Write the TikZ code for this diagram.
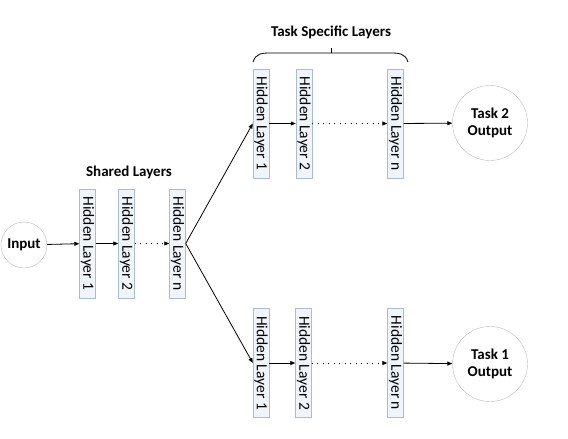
\documentclass[tikz,border=0pt]{standalone}
\usepackage{fontspec}
\setmainfont{Carlito}
\usetikzlibrary{arrows.meta}
\definecolor{boxfill}{HTML}{F0F5FB}
\definecolor{boxline}{HTML}{A9BCD5}
\definecolor{circline}{HTML}{BDBDBD}
\tikzset{
x=1pt,y=-1pt,
hidden/.style=
    {rectangle,
    draw=boxline,
    fill=boxfill,
    minimum width=16pt,
    minimum height=109pt,
    inner sep=0pt,
    font=\fontsize{15.5}{16}\selectfont
    },
unit/.style=
    {circle,
    draw=circline,
    fill=white,
    align=center,
    inner sep=0pt,
    font=\bfseries\fontsize{15}{17}\selectfont
    },
title/.style=
    {font=\bfseries\fontsize{15}{17}\selectfont
    },
link/.style=
    {-{Triangle[length=5pt,width=4pt]},
    draw=black,
    thick
    },
gap/.style=
    {link,
    dash pattern=on 1pt off 4.5pt
    }}
\newcommand{\hl}[1]{\rotatebox{-90}{Hidden Layer #1}}

\begin{document}
\begin{tikzpicture}
\useasboundingbox (0,0) rectangle (568,439);

% shared part
\node[unit,minimum size=46pt] (in) at (24,245) {Input};
\node[hidden] (s1) at (87.5,243.5) {\hl{1}};
\node[hidden] (s2) at (126.5,243.5) {\hl{2}};
\node[hidden] (sn) at (177.5,243.5) {\hl{n}};
\node[title] (shared) at (129,172) {Shared Layers};

% task 2 (top)
\node[hidden] (a1) at (261,123.5) {\hl{1}};
\node[hidden] (a2) at (304,123.5) {\hl{2}};
\node[hidden] (an) at (395.5,123.5) {\hl{n}};
\node[unit,minimum size=75pt] (out2) at (490,123) {Task 2\\Output};

% task 1 (bottom)
\node[hidden] (b1) at (261,363) {\hl{1}};
\node[hidden] (b2) at (303.5,363) {\hl{2}};
\node[hidden] (bn) at (395.5,363) {\hl{n}};
\node[unit,minimum size=75pt] (out1) at (490,364) {Task 1\\Output};

\node[title] (specific) at (331,32) {Task Specific Layers};

\draw[link] (in) -- (s1);
\draw[link] (s1) -- (s2);
\draw[gap] (s2) -- (sn);
\draw[link] (sn.east) -- (a1.west);
\draw[link] (sn.east) -- (b1.west);
\draw[link] (a1) -- (a2);
\draw[gap] (a2) -- (an);
\draw[link] (an) -- (out2);
\draw[link] (b1) -- (b2);
\draw[gap] (b2) -- (bn);
\draw[link] (bn) -- (out1);

% brace over the task layers
\coordinate (bl) at (253,62);
\coordinate (br) at (408,62);
\coordinate (bt) at (331,53);
\draw[thick] (bl) .. controls (256,53) and (262,53) .. (272,53) -- (389,53)
    .. controls (399,53) and (405,53) .. (br);
\draw[thick] (bt) -- ++(0,-5);

\end{tikzpicture}
\end{document}
